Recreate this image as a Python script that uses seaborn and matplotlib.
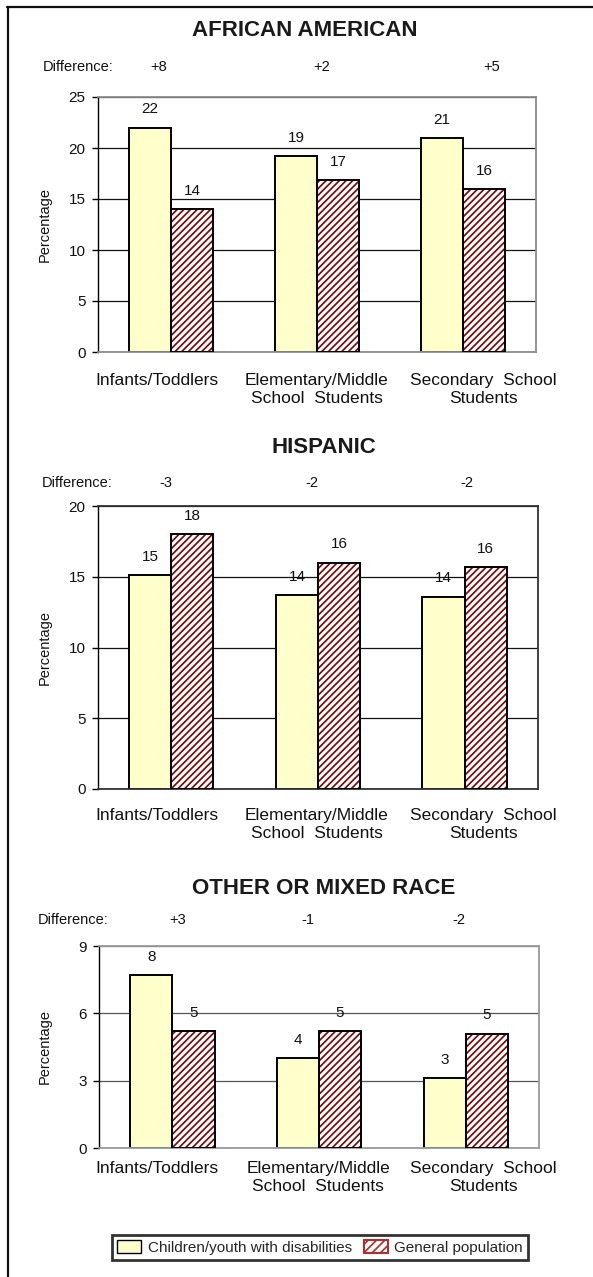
import numpy as np
import pandas as pd
import seaborn as sns
import matplotlib.pyplot as plt
from matplotlib.patches import Patch, Rectangle
from matplotlib.lines import Line2D

# ---- data -------------------------------------------------------------
categories = ["Infants/Toddlers",
              "Elementary/Middle\nSchool  Students",
              "Secondary  School\nStudents"]
groups = ["Children/youth with disabilities", "General population"]

aa_disabilities = [22.0, 19.2, 21.0]
aa_general = [14.0, 16.9, 16.0]
hisp_disabilities = [15.1, 13.7, 13.6]
hisp_general = [18.0, 16.0, 15.7]
other_disabilities = [7.7, 4.0, 3.1]
other_general = [5.2, 5.2, 5.1]

titles = ["AFRICAN AMERICAN", "HISPANIC", "OTHER OR MIXED RACE"]
y_ticks = [[0, 5, 10, 15, 20, 25], [0, 5, 10, 15, 20], [0, 3, 6, 9]]

series = [(aa_disabilities, aa_general),
          (hisp_disabilities, hisp_general),
          (other_disabilities, other_general)]

# ---- style ------------------------------------------------------------
sns.set_theme(style="white")
plt.rcParams["font.family"] = ["Liberation Sans", "DejaVu Sans"]
plt.rcParams["hatch.linewidth"] = 1.25

YELLOW = "#FFFFCC"
MAROON = "#7A0A0A"

W, H = 593, 1277
fig = plt.figure(figsize=(W / 100, H / 100), dpi=100)
fig.patch.set_facecolor("white")


def fx(x):
    return x / W


def fy(y):
    return 1 - y / H


# panel layout in pixels
layout = [
    dict(box=(98, 97, 536, 352), title=(305, 31), diff_y=67, diff_lx=78,
         diff_x=[159, 322, 492], cat_y=382, cat_x=[157, 317, 483],
         grid="#111111", frame="#8c8c8c"),
    dict(box=(98, 506, 538, 789), title=(324, 448), diff_y=483, diff_lx=77,
         diff_x=[166, 312, 467], cat_y=817, cat_x=[157, 317, 483],
         grid="#111111", frame="#333333"),
    dict(box=(99, 946, 539, 1148), title=(324, 888), diff_y=920, diff_lx=73,
         diff_x=[178, 308, 459], cat_y=1170, cat_x=[157, 318, 483],
         grid="#555555", frame="#9a9a9a"),
]

for (dis, gen), title, ticks, lay in zip(series, titles, y_ticks, layout):
    x0, y0, x1, y1 = lay["box"]
    ax = fig.add_axes([fx(x0), fy(y1), fx(x1) - fx(x0), (y1 - y0) / H])

    df = pd.DataFrame({
        "category": categories * 2,
        "group": [groups[0]] * 3 + [groups[1]] * 3,
        "value": list(dis) + list(gen),
    })
    sns.barplot(data=df, x="category", y="value", hue="group",
                order=categories, hue_order=groups,
                palette={groups[0]: YELLOW, groups[1]: "white"},
                saturation=1, width=0.575, legend=False, ax=ax,
                edgecolor="black", linewidth=1.4, zorder=2)

    # hatched general-population bars with a black outline on top
    for bar in ax.containers[1]:
        bar.set_hatch("/////")
        bar.set_edgecolor(MAROON)
        bar.set_linewidth(0)
        ax.add_patch(Rectangle(bar.get_xy(), bar.get_width(), bar.get_height(),
                               fill=False, edgecolor="black", linewidth=1.4,
                               zorder=3))

    # value labels
    for cont, vals in zip(ax.containers, (dis, gen)):
        ax.bar_label(cont, labels=[f"{round(v)}" for v in vals],
                     padding=8, fontsize=11, color="#111111")

    ax.set_ylim(0, ticks[-1])
    ax.set_yticks(ticks)
    ax.set_xticks(range(len(categories)))
    ax.set_xticklabels([])
    ax.tick_params(axis="x", length=0)
    ax.tick_params(axis="y", left=True, length=4, width=1, color="black",
                   pad=5, labelsize=11, labelcolor="#111111")
    ax.set_xlabel("")
    ax.set_ylabel("")
    ax.yaxis.grid(True, color=lay["grid"], linewidth=0.9)
    ax.set_axisbelow(True)
    for side in ("top", "right", "bottom"):
        ax.spines[side].set_color(lay["frame"])
        ax.spines[side].set_linewidth(1.3)
    ax.spines["left"].set_color("black")
    ax.spines["left"].set_linewidth(1.0)

    # title
    fig.text(fx(lay["title"][0]), fy(lay["title"][1]), title,
             ha="center", va="center", fontsize=16, fontweight="bold",
             color="#1a1a1a")

    # difference row
    fig.text(fx(lay["diff_lx"]), fy(lay["diff_y"]), "Difference:",
             ha="center", va="center", fontsize=10.5, color="#111111")
    for xpos, a, b in zip(lay["diff_x"], dis, gen):
        d = round(a) - round(b)
        fig.text(fx(xpos), fy(lay["diff_y"]), f"{d:+d}",
                 ha="center", va="center", fontsize=10.5, color="#111111")

    # category labels
    for xpos, cat in zip(lay["cat_x"], categories):
        fig.text(fx(xpos), fy(lay["cat_y"] - 9), cat, ha="center", va="top",
                 fontsize=12.5, linespacing=1.25, color="#111111")

    # y-axis label
    fig.text(fx(45), fy((y0 + y1) / 2), "Percentage", rotation=90,
             ha="center", va="center", fontsize=10.5, color="#111111")

# legend
handles = [Patch(facecolor=YELLOW, edgecolor="black", linewidth=1.0),
           Patch(facecolor="white", edgecolor="#B03030", hatch="////",
                 linewidth=1.5)]
leg = fig.legend(handles, groups, loc="center",
                 bbox_to_anchor=(fx(320), fy(1247.5)), ncol=2, fontsize=11,
                 frameon=True, fancybox=False, shadow=False,
                 borderpad=0.35, handlelength=1.55, handleheight=0.9,
                 handletextpad=0.45, columnspacing=0.8, borderaxespad=0)
leg.get_frame().set_edgecolor("black")
leg.get_frame().set_linewidth(2.0)

# page frame (left and top edges)
fig.add_artist(Line2D([fx(8), fx(8)], [fy(7), 0], color="#111111",
                      linewidth=1.6, transform=fig.transFigure))
fig.add_artist(Line2D([fx(7), 1], [fy(7), fy(7)], color="#111111",
                      linewidth=1.6, transform=fig.transFigure))

fig.savefig("out.png", dpi=100, facecolor="white")
